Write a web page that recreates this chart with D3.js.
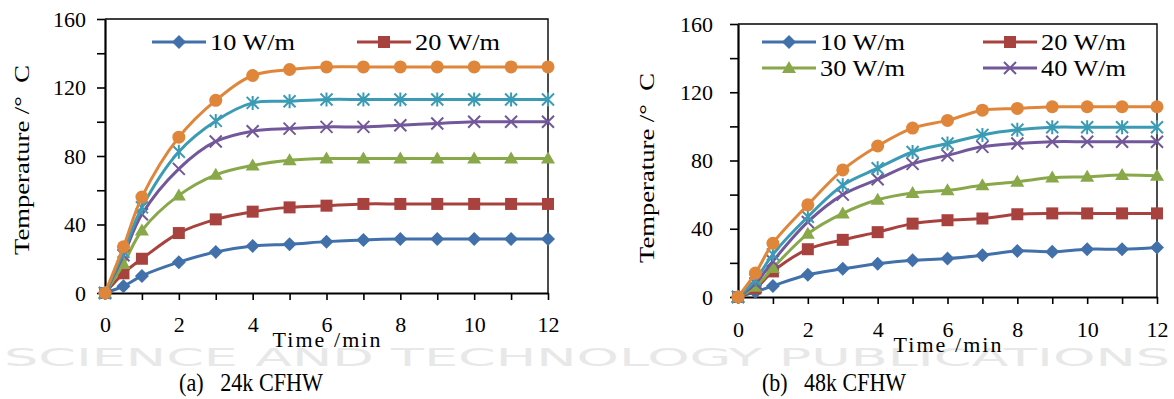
<!DOCTYPE html>
<html>
<head>
<meta charset="utf-8">
<script src="https://cdn.jsdelivr.net/npm/d3@7"></script>
<style>
  html, body { margin: 0; padding: 0; background: #fff; }
  svg { display: block; }
  svg text { font-family: "Liberation Serif", "Times New Roman", serif; }
</style>
</head>
<body>
<svg id="chart" width="1174" height="399"></svg>
<script>
// time points (min)
const times = [0, 0.5, 1, 2, 3, 4, 5, 6, 7, 8, 9, 10, 11, 12];
const xTickValues = d3.range(0, 13);
const yTickValues = [0, 20, 40, 60, 80, 100, 120, 140, 160];

// (a) 24k CFHW
const a10 = [0, 4, 10, 18, 24, 27.5, 28.5, 30, 31, 31.5, 31.5, 31.5, 31.5, 31.5];
const a20 = [0, 11.5, 20, 35, 43, 47.5, 50, 51, 52, 52, 52, 52, 52, 52];
const a30 = [0, 17, 36.5, 57, 69, 74.5, 77.5, 78.5, 78.5, 78.5, 78.5, 78.5, 78.5, 78.5];
const a40 = [0, 22, 46, 72.5, 88.5, 94.5, 96, 97, 97, 98, 99, 100, 100, 100];
const a50 = [0, 24, 50, 82.5, 100.5, 111, 112, 113, 113, 113, 113, 113, 113, 113];
const a60 = [0, 27, 56, 91, 112.5, 127, 130.5, 132, 132, 132, 132, 132, 132, 132];

// (b) 48k CFHW
const b10 = [0, 3, 6.5, 13, 16.5, 19.5, 21.5, 22.5, 24.5, 27, 26.5, 28, 28, 29];
const b20 = [0, 5, 15, 28, 33.5, 38, 43, 45, 46, 48.5, 49, 49, 49, 49];
const b30 = [0, 6, 17, 37, 49, 57, 61, 62.5, 65.5, 67.5, 70, 70.5, 71.5, 71];
const b40 = [0, 8, 21, 44, 60, 69, 78, 83, 88, 90, 91, 91, 91, 91];
const b50 = [0, 10, 25, 47, 65.5, 75.5, 85, 90, 95, 98, 99.5, 99.5, 99.5, 99.5];
const b60 = [0, 14, 31.5, 54, 74.5, 88.5, 99, 103.5, 109.5, 110.5, 111.5, 111.5, 111.5, 111.5];

const seriesNames = ['10 W/m', '20 W/m', '30 W/m', '40 W/m', '50 W/m', '60 W/m'];
const colors = ['#4170AA', '#A8423F', '#89A84A', '#72589A', '#3C9BB4', '#E0863A'];
const markers = ['diamond', 'square', 'triangle', 'cross', 'star', 'circle'];

const svg = d3.select('#chart');

// faint publisher line behind the captions
svg.append('text')
    .attr('x', 4).attr('y', 366)
    .attr('textLength', 1166).attr('lengthAdjust', 'spacingAndGlyphs')
    .style('font-family', '"DejaVu Sans", sans-serif')
    .style('font-size', '25px')
    .attr('fill', '#e8e8e8')
    .text('SCIENCE AND TECHNOLOGY PUBLICATIONS');

function drawMarker(g, type, color) {
    if (type === 'diamond') {
        g.append('path').attr('d', 'M0,-7L7,0L0,7L-7,0Z').attr('fill', color);
    } else if (type === 'square') {
        g.append('rect').attr('x', -6).attr('y', -6).attr('width', 12).attr('height', 12).attr('fill', color);
    } else if (type === 'triangle') {
        g.append('path').attr('d', 'M0,-7L7,5L-7,5Z').attr('fill', color);
    } else if (type === 'circle') {
        g.append('circle').attr('r', 6.5).attr('fill', color);
    } else if (type === 'cross') {
        g.append('path').attr('d', 'M-6,-6L6,6M-6,6L6,-6')
            .attr('stroke', color).attr('stroke-width', 2).attr('fill', 'none');
    } else if (type === 'star') {
        g.append('path').attr('d', 'M-6,-6L6,6M-6,6L6,-6M0,-7L0,7')
            .attr('stroke', color).attr('stroke-width', 2).attr('fill', 'none');
    }
}

function drawChart(cfg) {
    const x = d3.scaleLinear().domain([0, 12]).range([cfg.left, cfg.right]);
    const y = d3.scaleLinear().domain([0, 160]).range([cfg.bottom, cfg.top]);
    const g = svg.append('g');

    // frame (top and right)
    g.append('path')
        .attr('d', `M${cfg.left},${cfg.top}H${cfg.right}V${cfg.bottom}`)
        .attr('fill', 'none').attr('stroke', '#000').attr('stroke-width', 1.4);

    // Y axis
    const yAxis = g.append('g')
        .attr('transform', `translate(${cfg.left},0)`)
        .call(d3.axisLeft(y).tickValues(yTickValues).tickSize(8).tickSizeOuter(0)
            .tickPadding(cfg.yPad).tickFormat(d => (d % 40 === 0 ? d : '')));
    // X axis
    const xAxis = g.append('g')
        .attr('transform', `translate(0,${cfg.bottom})`)
        .call(d3.axisBottom(x).tickValues(xTickValues).tickSize(7).tickSizeOuter(0)
            .tickPadding(cfg.xPad).tickFormat(d => (d % 2 === 0 ? d : '')));
    [yAxis, xAxis].forEach(a => {
        a.attr('font-family', null).attr('font-size', null);
        a.select('.domain').attr('stroke-width', 2.2);
        a.selectAll('.tick line').attr('stroke-width', 1.6);
        a.selectAll('text').style('font-size', '22px').attr('fill', '#000');
    });

    // axis titles
    g.append('text')
        .attr('transform', `translate(${cfg.yTitleX},${cfg.yTitleY}) rotate(-90)`)
        .attr('text-anchor', 'middle')
        .attr('textLength', 190).attr('lengthAdjust', 'spacingAndGlyphs')
        .style('font-size', '22px').style('white-space', 'pre')
        .text('Temperature /°  C');
    g.append('text')
        .attr('x', x(6)).attr('y', cfg.xTitleY)
        .attr('text-anchor', 'middle')
        .attr('textLength', 108).attr('lengthAdjust', 'spacing')
        .style('font-size', '22px').style('white-space', 'pre')
        .text('Time /min');

    // series
    const line = d3.line()
        .x((d, i) => x(times[i]))
        .y(d => y(d))
        .curve(d3.curveCatmullRom.alpha(0.5));
    cfg.series.forEach((vals, k) => {
        g.append('path')
            .attr('d', line(vals))
            .attr('fill', 'none')
            .attr('stroke', colors[k])
            .attr('stroke-width', 3);
        g.selectAll(null)
            .data(vals)
            .enter()
            .append('g')
            .attr('transform', (d, i) => `translate(${x(times[i])},${y(d)})`)
            .each(function () { drawMarker(d3.select(this), markers[k], colors[k]); });
    });

    // legend
    cfg.legend.forEach(item => {
        const lg = g.append('g');
        lg.append('line')
            .attr('x1', item.x).attr('x2', item.x + 54)
            .attr('y1', item.y).attr('y2', item.y)
            .attr('stroke', colors[item.k]).attr('stroke-width', 3);
        const mk = lg.append('g').attr('transform', `translate(${item.x + 27},${item.y})`);
        drawMarker(mk, markers[item.k], colors[item.k]);
        lg.append('text')
            .attr('x', item.x + 58).attr('y', item.y + 8)
            .attr('textLength', 85).attr('lengthAdjust', 'spacingAndGlyphs')
            .style('font-size', '23px')
            .text(seriesNames[item.k]);
    });

    // caption
    svg.append('text')
        .attr('x', cfg.capX).attr('y', 391)
        .attr('text-anchor', 'middle')
        .attr('textLength', 144).attr('lengthAdjust', 'spacingAndGlyphs')
        .style('font-size', '26px').style('white-space', 'pre')
        .text(cfg.caption);
}

drawChart({
    left: 105, right: 548, top: 19, bottom: 293,
    yPad: 11, xPad: 16, yTitleX: 29, yTitleY: 160, xTitleY: 347,
    series: [a10, a20, a30, a40, a50, a60],
    legend: [{ k: 0, x: 152, y: 42 }, { k: 1, x: 357, y: 42 }],
    caption: '(a)   24k CFHW', capX: 251
});
drawChart({
    left: 738, right: 1157, top: 24, bottom: 297,
    yPad: 17, xPad: 17, yTitleX: 654, yTitleY: 168, xTitleY: 352,
    series: [b10, b20, b30, b40, b50, b60],
    legend: [
        { k: 0, x: 762, y: 42 }, { k: 1, x: 983, y: 42 },
        { k: 2, x: 762, y: 68 }, { k: 3, x: 983, y: 68 }
    ],
    caption: '(b)   48k CFHW', capX: 834
});
</script>
</body>
</html>
